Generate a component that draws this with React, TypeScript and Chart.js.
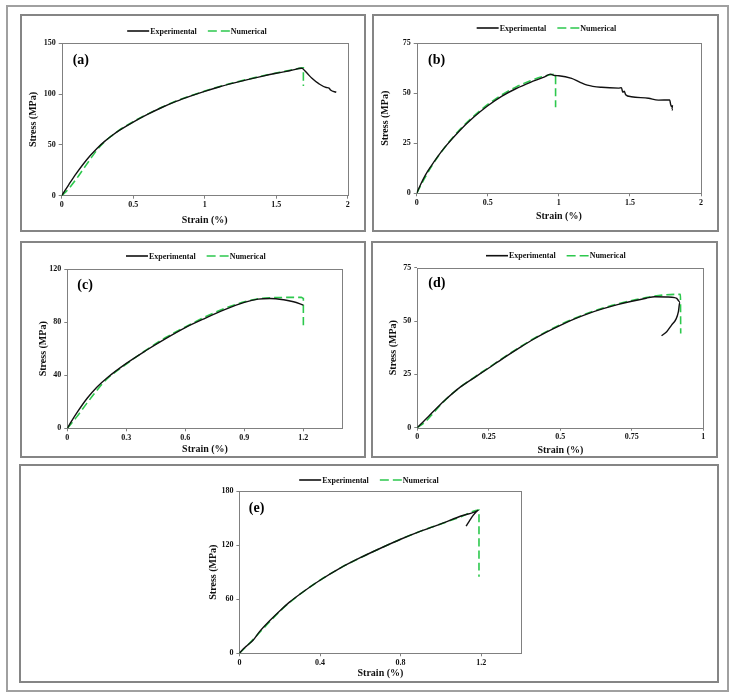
import React, { useEffect, useRef } from 'react';
import { Chart, registerables } from 'chart.js';

Chart.register(...registerables);

// ---- (a) ----
const aExpStrain = [0, 0.02, 0.05, 0.1, 0.15, 0.2, 0.25, 0.3, 0.35, 0.4, 0.5, 0.6, 0.7, 0.8, 0.9, 1.0, 1.1, 1.2, 1.3, 1.4, 1.5, 1.6, 1.68, 1.7, 1.72, 1.75, 1.8, 1.85, 1.87, 1.88, 1.92];
const aExpStress = [0, 4.5, 11, 21.5, 31, 39.5, 47, 53.5, 59, 64, 72.5, 80, 86.8, 92.8, 98, 102.7, 107, 110.8, 114.3, 117.5, 120.5, 123.2, 125.4, 123, 120, 115.5, 110, 106.5, 106, 104, 101.8];
const aNumStrain = [0, 0.05, 0.1, 0.15, 0.2, 0.25, 0.3, 0.35, 0.4, 0.5, 0.6, 0.7, 0.8, 0.9, 1.0, 1.1, 1.2, 1.3, 1.4, 1.5, 1.6, 1.69, 1.69];
const aNumStress = [0, 7, 16, 26, 36, 45.5, 53, 59, 64.3, 72.8, 80.3, 87.1, 93.1, 98.3, 103, 107.3, 111.1, 114.6, 117.8, 120.8, 123.5, 125.8, 108];
const aXTicks = [0, 0.5, 1, 1.5, 2];
const aYTicks = [0, 50, 100, 150];

// ---- (b) ----
const bExpStrain = [0, 0.03, 0.06, 0.1, 0.15, 0.2, 0.3, 0.4, 0.5, 0.6, 0.7, 0.8, 0.9, 0.94, 0.97, 1.0, 1.09, 1.15, 1.2, 1.3, 1.42, 1.44, 1.45, 1.46, 1.47, 1.51, 1.63, 1.7, 1.78, 1.785, 1.79, 1.8, 1.795, 1.8];
const bExpStress = [0, 4.8, 9, 13.5, 18.6, 23.2, 31.2, 38, 43.8, 48.6, 52.4, 55.5, 58.2, 59.6, 58.9, 58.8, 57.5, 55.5, 54.1, 53, 52.6, 52.8, 50.5, 51, 49.3, 48.3, 47.5, 46.6, 46.7, 45, 43.5, 44, 42, 41.5];
const bNumStrain = [0, 0.05, 0.1, 0.2, 0.3, 0.4, 0.5, 0.6, 0.7, 0.8, 0.9, 0.977, 0.977];
const bNumStress = [0, 6.8, 13, 23.2, 31.6, 38.5, 44.4, 49.3, 53.2, 56.3, 58.6, 59.6, 43];
const bXTicks = [0, 0.5, 1, 1.5, 2];
const bYTicks = [0, 25, 50, 75];

// ---- (c) ----
const cExpStrain = [0, 0.02, 0.05, 0.1, 0.15, 0.2, 0.3, 0.4, 0.5, 0.6, 0.7, 0.8, 0.9, 0.97, 1.03, 1.1, 1.15, 1.2];
const cExpStress = [0, 5, 12, 22.5, 31, 37.8, 49, 58.7, 67.7, 76, 83, 89.5, 95, 97.5, 98, 97, 95.5, 93];
const cNumStrain = [0, 0.05, 0.1, 0.15, 0.2, 0.3, 0.4, 0.5, 0.6, 0.7, 0.8, 0.9, 0.97, 1.05, 1.12, 1.19, 1.2, 1.2];
const cNumStress = [0, 9, 19, 28.5, 37, 48.5, 59, 68.5, 76.5, 84, 90.5, 95.5, 97.8, 98.6, 98.8, 98.8, 98, 75.5];
const cXTicks = [0, 0.3, 0.6, 0.9, 1.2];
const cYTicks = [0, 40, 80, 120];

// ---- (d) ----
const dExpStrain = [0, 0.02, 0.04, 0.07, 0.1, 0.15, 0.2, 0.25, 0.3, 0.35, 0.4, 0.45, 0.5, 0.55, 0.6, 0.65, 0.7, 0.75, 0.8, 0.83, 0.87, 0.9, 0.907, 0.918, 0.913, 0.905, 0.889, 0.872, 0.854];
const dExpStress = [0, 2.7, 5.4, 9.5, 13.3, 19, 23.5, 28, 32.5, 36.8, 41, 44.7, 48, 51, 53.6, 55.8, 57.7, 59.3, 60.7, 61.4, 61.3, 61, 60.6, 59, 54.4, 51, 48.1, 45, 43.1];
const dNumStrain = [0, 0.03, 0.06, 0.1, 0.15, 0.2, 0.25, 0.3, 0.4, 0.5, 0.6, 0.7, 0.8, 0.86, 0.92, 0.921];
const dNumStress = [0, 3, 7.5, 13.3, 19, 23.7, 28.2, 32.7, 41.2, 48.3, 53.9, 58, 61, 62.2, 62.5, 44.2];
const dXTicks = [0, 0.25, 0.5, 0.75, 1];
const dYTicks = [0, 25, 50, 75];

// ---- (e) ----
const eExpStrain = [0, 0.02, 0.04, 0.07, 0.1, 0.15, 0.2, 0.25, 0.3, 0.4, 0.5, 0.6, 0.7, 0.8, 0.9, 1.0, 1.1, 1.186, 1.161, 1.144, 1.125];
const eExpStress = [0, 5, 9, 15, 24, 36, 47, 57, 65.5, 81, 94.5, 106, 116.5, 126.5, 135.5, 143.5, 152.3, 158.9, 153.3, 147.8, 141.1];
const eNumStrain = [0, 0.05, 0.1, 0.15, 0.2, 0.25, 0.3, 0.4, 0.5, 0.6, 0.7, 0.8, 0.9, 1.0, 1.1, 1.189, 1.189];
const eNumStress = [0, 11, 23, 35, 46.5, 56.5, 65.5, 81, 94.5, 106, 116.5, 126.5, 135.5, 143.5, 151.5, 159, 85];
const eXTicks = [0, 0.4, 0.8, 1.2];
const eYTicks = [0, 60, 120, 180];

const SERIF = "'Liberation Serif', 'Times New Roman', serif";
const GREEN = '#2dc84d';

type Geo = {
  left: number; top: number; width: number; height: number;
  padLeft: number; padTop: number; padRight: number;
  yWidth: number; xHeight: number;
  yTitlePad: number; xTitlePad: number;
  legendX: number; legendY: number;
  tagX: number; tagY: number;
};

type Panel = {
  tag: string;
  expStrain: number[]; expStress: number[];
  numStrain: number[]; numStress: number[];
  xMax: number; yMax: number;
  xTicks: number[]; yTicks: number[];
  geo: Geo;
};

const panels: Panel[] = [
  {
    tag: '(a)', expStrain: aExpStrain, expStress: aExpStress, numStrain: aNumStrain, numStress: aNumStress,
    xMax: 2, yMax: 150, xTicks: aXTicks, yTicks: aYTicks,
    geo: { left: 20, top: 14, width: 346, height: 218, padLeft: 0, padTop: 29.3, padRight: 18.3, yWidth: 41.7, xHeight: 36.3, yTitlePad: 7.3, xTitlePad: 6, legendX: 177, legendY: 17, tagX: 52.7, tagY: 46 },
  },
  {
    tag: '(b)', expStrain: bExpStrain, expStress: bExpStress, numStrain: bNumStrain, numStress: bNumStress,
    xMax: 2, yMax: 75, xTicks: bXTicks, yTicks: bYTicks,
    geo: { left: 372, top: 14, width: 347, height: 218, padLeft: 0, padTop: 29.3, padRight: 18, yWidth: 44.7, xHeight: 38.7, yTitlePad: 7, xTitlePad: 10, legendX: 174.5, legendY: 14, tagX: 56, tagY: 46.7 },
  },
  {
    tag: '(c)', expStrain: cExpStrain, expStress: cExpStress, numStrain: cNumStrain, numStress: cNumStress,
    xMax: 1.4, yMax: 120, xTicks: cXTicks, yTicks: cYTicks,
    geo: { left: 20, top: 241, width: 346, height: 217, padLeft: 0, padTop: 28.3, padRight: 23.3, yWidth: 47.3, xHeight: 29.7, yTitlePad: 17.3, xTitlePad: 3, legendX: 175.8, legendY: 15, tagX: 57.3, tagY: 44.7 },
  },
  {
    tag: '(d)', expStrain: dExpStrain, expStress: dExpStress, numStrain: dNumStrain, numStress: dNumStress,
    xMax: 1, yMax: 75, xTicks: dXTicks, yTicks: dYTicks,
    geo: { left: 371, top: 241, width: 347, height: 217, padLeft: 0, padTop: 26.7, padRight: 14.7, yWidth: 46.3, xHeight: 30.3, yTitlePad: 16.3, xTitlePad: 2, legendX: 184.8, legendY: 14.7, tagX: 57.3, tagY: 42.3 },
  },
  {
    tag: '(e)', expStrain: eExpStrain, expStress: eExpStress, numStrain: eNumStrain, numStress: eNumStress,
    xMax: 1.4, yMax: 180, xTicks: eXTicks, yTicks: eYTicks,
    geo: { left: 19, top: 464, width: 700, height: 219, padLeft: 180, padTop: 27, padRight: 197.5, yWidth: 40.4, xHeight: 29.7, yTitlePad: 8.6, xTitlePad: 3.7, legendX: 350, legendY: 16, tagX: 229.8, tagY: 44.3 },
  },
];

const zip = (xs: number[], ys: number[]) => xs.map((x, i) => ({ x, y: ys[i] }));

// plot-area frame, drawn under the curves
const framePlugin = {
  id: 'plotFrame',
  beforeDatasetsDraw(chart: any) {
    const { ctx, chartArea: a } = chart;
    ctx.save();
    ctx.strokeStyle = '#808080';
    ctx.lineWidth = 1;
    ctx.strokeRect(Math.round(a.left) + 0.5, Math.round(a.top) + 0.5, Math.round(a.right - a.left), Math.round(a.bottom - a.top));
    ctx.restore();
  },
};

// legend row and panel tag
const annotatePlugin = {
  id: 'annotate',
  afterDraw(chart: any, _args: any, opts: any) {
    const { ctx } = chart;
    const sample = 22;
    const gapText = 1;
    const gapItem = 11;
    ctx.save();
    ctx.font = `bold 8px ${SERIF}`;
    ctx.textBaseline = 'middle';
    const sets = chart.data.datasets;
    const widths = sets.map((d: any) => sample + gapText + ctx.measureText(d.label).width);
    const total = widths.reduce((s: number, w: number) => s + w, 0) + gapItem * (sets.length - 1);
    let x = opts.legendX - total / 2;
    const y = opts.legendY;
    sets.forEach((d: any, i: number) => {
      ctx.beginPath();
      ctx.strokeStyle = d.borderColor;
      ctx.lineWidth = 1.6;
      ctx.setLineDash(d.borderDash ? [9, 4] : []);
      ctx.moveTo(x, y);
      ctx.lineTo(x + sample, y);
      ctx.stroke();
      ctx.setLineDash([]);
      ctx.fillStyle = '#111';
      ctx.textAlign = 'left';
      ctx.fillText(d.label, x + sample + gapText, y + 0.5);
      x += widths[i] + gapItem;
    });
    ctx.font = `bold 14px ${SERIF}`;
    ctx.fillStyle = '#000';
    ctx.fillText(opts.tag, opts.tagX, opts.tagY);
    ctx.restore();
  },
};

function StressStrainPanel({ p }: { p: Panel }) {
  const ref = useRef<HTMLCanvasElement>(null);
  useEffect(() => {
    const g = p.geo;
    const tickFont = { family: SERIF, size: 8, weight: 'bold' as const };
    const titleFont = { family: SERIF, size: 10, weight: 'bold' as const };
    const chart = new Chart(ref.current as HTMLCanvasElement, {
      type: 'scatter',
      data: {
        datasets: [
          {
            label: 'Experimental',
            data: zip(p.expStrain, p.expStress),
            showLine: true,
            borderColor: '#111111',
            borderWidth: 1.4,
            pointRadius: 0,
            cubicInterpolationMode: 'monotone',
          },
          {
            label: 'Numerical',
            data: zip(p.numStrain, p.numStress),
            showLine: true,
            borderColor: GREEN,
            borderWidth: 1.6,
            borderDash: [8, 4],
            pointRadius: 0,
            cubicInterpolationMode: 'monotone',
          },
        ],
      },
      options: {
        responsive: false,
        maintainAspectRatio: false,
        animation: false,
        events: [],
        layout: { padding: { left: g.padLeft, top: g.padTop, right: g.padRight, bottom: 0 } },
        plugins: {
          legend: { display: false },
          tooltip: { enabled: false },
          annotate: { legendX: g.legendX, legendY: g.legendY, tagX: g.tagX, tagY: g.tagY, tag: p.tag },
        } as any,
        scales: {
          x: {
            type: 'linear',
            min: 0,
            max: p.xMax,
            afterBuildTicks: (s: any) => { s.ticks = p.xTicks.map((value) => ({ value })); },
            afterFit: (s: any) => { s.height = g.xHeight; },
            grid: { drawOnChartArea: false, drawTicks: true, tickLength: 3, color: '#808080' },
            border: { display: false },
            ticks: { font: tickFont, color: '#111', padding: 1.5, maxRotation: 0, autoSkip: false, callback: (v: any) => String(v) },
            title: { display: true, text: 'Strain (%)', font: titleFont, color: '#111', padding: { top: 0, bottom: g.xTitlePad } },
          },
          y: {
            type: 'linear',
            min: 0,
            max: p.yMax,
            afterBuildTicks: (s: any) => { s.ticks = p.yTicks.map((value) => ({ value })); },
            afterFit: (s: any) => { s.width = g.yWidth; },
            grid: { drawOnChartArea: false, drawTicks: true, tickLength: 3, color: '#808080' },
            border: { display: false },
            ticks: { font: tickFont, color: '#111', padding: 3, autoSkip: false, callback: (v: any) => String(v) },
            title: { display: true, text: 'Stress (MPa)', font: titleFont, color: '#111', padding: { top: g.yTitlePad, bottom: 0 } },
          },
        },
      },
      plugins: [framePlugin, annotatePlugin],
    });
    return () => chart.destroy();
  }, [p]);

  const g = p.geo;
  return (
    <>
      <canvas
        ref={ref}
        width={g.width}
        height={g.height}
        style={{ position: 'absolute', left: g.left, top: g.top, width: g.width, height: g.height }}
      />
      <div
        style={{
          position: 'absolute', left: g.left, top: g.top, width: g.width, height: g.height,
          boxSizing: 'border-box', border: '2px solid #858585', pointerEvents: 'none',
        }}
      />
    </>
  );
}

export default function App() {
  return (
    <div style={{ position: 'absolute', left: 0, top: 0, width: 736, height: 698, background: '#fff', overflow: 'hidden' }}>
      <div
        style={{
          position: 'absolute', left: 6, top: 5, width: 723, height: 687,
          boxSizing: 'border-box', border: '2px solid #a0a0a0',
        }}
      />
      {panels.map((p) => (
        <StressStrainPanel key={p.tag} p={p} />
      ))}
    </div>
  );
}
